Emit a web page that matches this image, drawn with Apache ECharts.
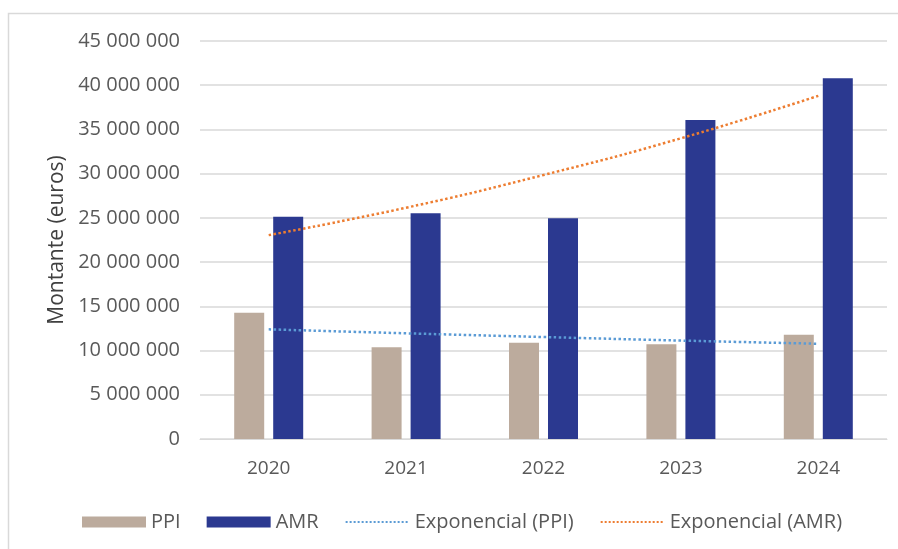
<!DOCTYPE html>
<html>
<head>
<meta charset="utf-8">
<script src="https://cdn.jsdelivr.net/npm/echarts@6/dist/echarts.min.js"></script>
<style>
html,body{margin:0;padding:0;background:#fff;}
#c{width:898px;height:549px;}
</style>
</head>
<body>
<div id="c"></div>
<script>
var categories = ['2020', '2021', '2022', '2023', '2024'];
var ppi = [14280000, 10370000, 10890000, 10700000, 11800000];
var amr = [25130000, 25520000, 24950000, 36070000, 40780000];
// trendline values at each category
var trendPPI = [12400000, 11950000, 11530000, 11130000, 10770000];
var trendAMR = [23050000, 26150000, 29850000, 34000000, 38800000];
var yTicks = [0, 5000000, 10000000, 15000000, 20000000, 25000000, 30000000, 35000000, 40000000, 45000000];

function fmt(v) {
  var s = String(Math.round(v));
  return s.replace(/\B(?=(\d{3})+(?!\d))/g, ' ');
}

var chart = echarts.init(document.getElementById('c'));
var font = 'Open Sans';
chart.setOption({
  backgroundColor: '#ffffff',
  animation: false,
  graphic: [{
    type: 'rect',
    shape: { x: 8.5, y: 13.5, width: 900, height: 560 },
    style: { fill: 'none', stroke: '#d9d9d9', lineWidth: 1.5 },
    silent: true
  }],
  grid: { left: 200, right: 11, top: 41, bottom: 110 },
  legend: {
    left: 77,
    top: 507,
    itemWidth: 64,
    itemHeight: 11,
    itemGap: 26,
    textStyle: { fontFamily: font, fontSize: 20, color: '#595959' },
    data: [
      { name: 'PPI', icon: 'rect' },
      { name: 'AMR', icon: 'rect' },
      { name: 'Exponencial (PPI)', itemStyle: { opacity: 0 } },
      { name: 'Exponencial (AMR)', itemStyle: { opacity: 0 } }
    ]
  },
  xAxis: {
    type: 'category',
    data: categories,
    axisLine: { lineStyle: { color: '#d9d9d9', width: 1 } },
    axisTick: { show: false },
    axisLabel: { fontFamily: font, fontSize: 19, color: '#595959', margin: 20 }
  },
  yAxis: {
    type: 'value',
    min: yTicks[0],
    max: yTicks[yTicks.length - 1],
    interval: yTicks[1] - yTicks[0],
    name: 'Montante (euros)',
    nameLocation: 'middle',
    nameGap: 132,
    nameTextStyle: { fontFamily: font, fontSize: 21, color: '#404040' },
    axisLine: { show: false },
    axisTick: { show: false },
    splitLine: { lineStyle: { color: '#d9d9d9', width: 1.5 } },
    axisLabel: {
      fontFamily: font, fontSize: 20, color: '#595959', margin: 20,
      formatter: function (v) { return fmt(v); }
    }
  },
  series: [
    {
      name: 'PPI', type: 'bar', data: ppi,
      barWidth: 30, barGap: '30%',
      itemStyle: { color: '#bcab9d' }
    },
    {
      name: 'AMR', type: 'bar', data: amr,
      barWidth: 30, barGap: '30%',
      itemStyle: { color: '#2b3990' }
    },
    {
      name: 'Exponencial (PPI)', type: 'line', data: trendPPI,
      smooth: true, symbol: 'none', z: 5,
      lineStyle: { color: '#5b9bd5', width: 2.5, type: 'dotted' },
      itemStyle: { color: '#5b9bd5' }
    },
    {
      name: 'Exponencial (AMR)', type: 'line', data: trendAMR,
      smooth: true, symbol: 'none', z: 5,
      lineStyle: { color: '#ed7d31', width: 2.5, type: 'dotted' },
      itemStyle: { color: '#ed7d31' }
    }
  ]
});
</script>
</body>
</html>
